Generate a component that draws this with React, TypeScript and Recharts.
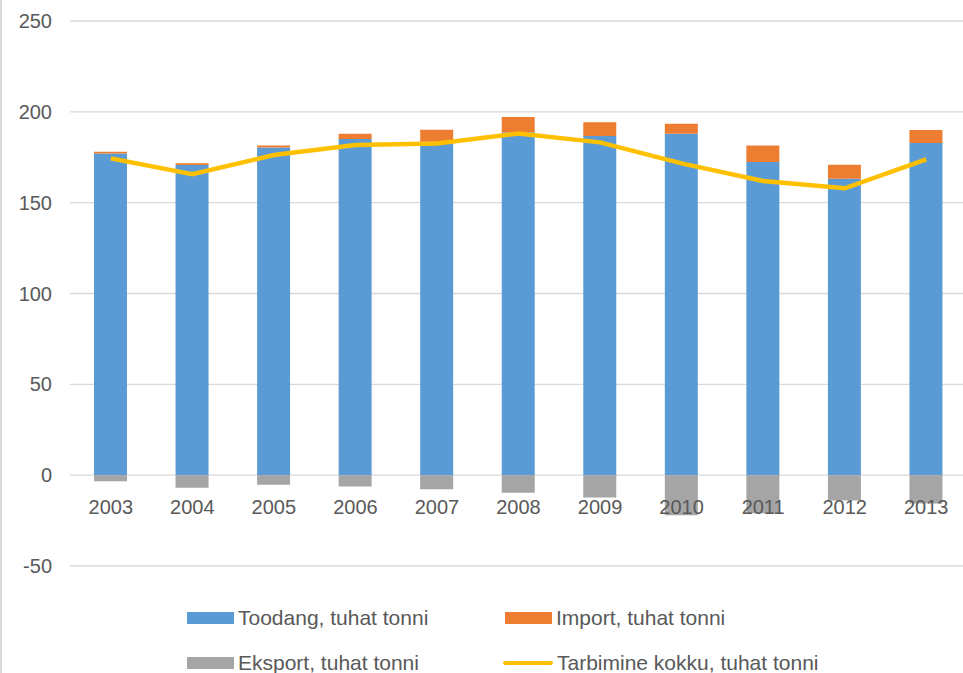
import { ComposedChart, Bar, Line, XAxis, YAxis, CartesianGrid } from 'recharts';

const years = ['2003', '2004', '2005', '2006', '2007', '2008', '2009', '2010', '2011', '2012', '2013'];
const toodang = [177, 170.7, 180.4, 185, 183.5, 188.7, 186.7, 188, 172.4, 163.2, 182.8];
const importTons = [1, 1, 1.1, 3, 6.6, 8.4, 7.5, 5.4, 9.1, 7.7, 7.2];
const eksport = [-3.4, -6.9, -5.3, -6.2, -7.7, -9.7, -12.3, -22, -21, -14, -15.6];
const tarbimine = [174.4, 165.7, 176.2, 181.7, 182.6, 188.1, 183.2, 171.6, 161.9, 157.9, 173.8];
const yTicks = [-50, 0, 50, 100, 150, 200, 250];

const data = years.map((year, i) => ({
  year,
  toodang: toodang[i],
  import: importTons[i],
  eksport: eksport[i],
  tarbimine: tarbimine[i],
}));

const FONT = "'Liberation Sans', Arial, sans-serif";
const TEXT = '#595959';

const legendItems = [
  { name: 'Toodang, tuhat tonni', color: '#5b9bd5', type: 'rect', left: 187, top: 618 },
  { name: 'Import, tuhat tonni', color: '#ed7d31', type: 'rect', left: 505, top: 618 },
  { name: 'Eksport, tuhat tonni', color: '#a5a5a5', type: 'rect', left: 187, top: 663 },
  { name: 'Tarbimine kokku, tuhat tonni', color: '#ffc000', type: 'line', left: 503, top: 663 },
];

// x labels sit just under the zero line, like Excel's crossing axis
const renderYearTick = ({ x, y, payload }: any) => (
  <text x={x} y={y - 52} textAnchor="middle" fill={TEXT} fontSize={20} fontFamily={FONT}>
    {payload.value}
  </text>
);

export default function App() {
  return (
    <div style={{ position: 'fixed', left: 0, top: 0, width: 963, height: 673, background: '#fff', overflow: 'hidden' }}>
      <div style={{ position: 'absolute', left: 0, top: 0, width: 2, height: 673, background: '#d9d9d9' }} />
      <ComposedChart
        width={967}
        height={580}
        data={data}
        stackOffset="sign"
        margin={{ top: 21, right: 0, left: 0, bottom: 0 }}
      >
        <CartesianGrid vertical={false} stroke="#d9d9d9" strokeWidth={1.3} />
        <YAxis
          width={70}
          domain={[-50, 250]}
          ticks={yTicks}
          axisLine={false}
          tickLine={false}
          tickSize={0}
          tickMargin={18}
          tick={{ fill: TEXT, fontSize: 20, fontFamily: FONT }}
        />
        <Bar dataKey="toodang" stackId="a" fill="#5b9bd5" barSize={33} isAnimationActive={false} />
        <Bar dataKey="import" stackId="a" fill="#ed7d31" barSize={33} isAnimationActive={false} />
        <Bar dataKey="eksport" stackId="a" fill="#a5a5a5" barSize={33} isAnimationActive={false} />
        <Line
          dataKey="tarbimine"
          type="linear"
          stroke="#ffc000"
          strokeWidth={4.5}
          dot={false}
          isAnimationActive={false}
        />
        <XAxis
          dataKey="year"
          height={14}
          axisLine={false}
          tickLine={false}
          tickSize={0}
          tickMargin={0}
          interval={0}
          tick={renderYearTick}
        />
      </ComposedChart>
      {legendItems.map((item) => (
        <div
          key={item.name}
          style={{
            position: 'absolute',
            left: item.left,
            top: item.top - 13,
            height: 26,
            display: 'flex',
            alignItems: 'center',
            fontFamily: FONT,
            fontSize: 21,
            color: TEXT,
            whiteSpace: 'nowrap',
          }}
        >
          {item.type === 'rect' ? (
            <span style={{ width: 47, height: 12, background: item.color, marginRight: 4 }} />
          ) : (
            <span style={{ width: 50, height: 4, borderRadius: 2, background: item.color, marginRight: 4 }} />
          )}
          {item.name}
        </div>
      ))}
    </div>
  );
}
